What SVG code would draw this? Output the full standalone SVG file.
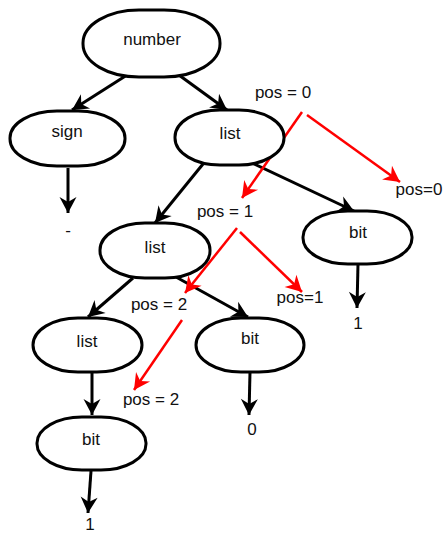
<svg xmlns="http://www.w3.org/2000/svg" width="445" height="535" viewBox="0 0 445 535">
<defs>
<style>
.node rect{fill:#fff;stroke:#000;stroke-width:3}
text{font-family:"Liberation Sans",Arial,sans-serif;font-size:17px;fill:#111;text-anchor:middle}
.blk{stroke:#000;stroke-width:3;fill:none;marker-end:url(#ab)}
.red{stroke:#f00;stroke-width:2.5;fill:none;marker-end:url(#ar)}
</style>
<marker id="ab" markerUnits="userSpaceOnUse" viewBox="-17 -10 19 20" refX="0" refY="0" markerWidth="19" markerHeight="20" orient="auto">
<path d="M0,0 L-16,-8.5 L-11,0 L-16,8.5 Z" fill="#000"/>
</marker>
<marker id="ar" markerUnits="userSpaceOnUse" viewBox="-17 -10 19 20" refX="0" refY="0" markerWidth="19" markerHeight="20" orient="auto">
<path d="M0,0 L-16,-8.5 L-11,0 L-16,8.5 Z" fill="#f00"/>
</marker>
</defs>
<g id="connectors">
<line class="blk" x1="127" y1="75" x2="72" y2="110"/>
<line class="blk" x1="172" y1="70" x2="227" y2="110"/>
<line class="blk" x1="68" y1="168" x2="68" y2="213"/>
<line class="blk" x1="203" y1="164" x2="155" y2="223"/>
<line class="blk" x1="250" y1="162" x2="354" y2="211"/>
<line class="blk" x1="358" y1="264" x2="357" y2="308"/>
<line class="blk" x1="133" y1="278" x2="88" y2="317"/>
<line class="blk" x1="176" y1="277" x2="248" y2="317"/>
<line class="blk" x1="92" y1="372" x2="92" y2="415"/>
<line class="blk" x1="250" y1="372" x2="249" y2="415"/>
<line class="blk" x1="91" y1="471" x2="88" y2="513"/>
<line class="red" x1="302" y1="112" x2="242" y2="198"/>
<line class="red" x1="307" y1="115" x2="400" y2="182"/>
<line class="red" x1="237" y1="228" x2="185" y2="293"/>
<line class="red" x1="240" y1="232" x2="302" y2="292"/>
<line class="red" x1="182" y1="320" x2="134" y2="390"/>
</g>
<g id="number" class="node"><rect x="83" y="10" width="137" height="67" rx="56" ry="33"/><text x="152" y="45">number</text></g>
<g id="sign" class="node"><rect x="10" y="111" width="115" height="55" rx="47" ry="27"/><text x="67" y="137">sign</text></g>
<g id="list1" class="node"><rect x="175" y="110" width="109" height="55" rx="45" ry="27"/><text x="230" y="139">list</text></g>
<g id="list2" class="node"><rect x="100" y="223" width="110" height="55" rx="45" ry="27"/><text x="155" y="253">list</text></g>
<g id="bit1" class="node"><rect x="303" y="211" width="109" height="53" rx="45" ry="26"/><text x="358" y="238">bit</text></g>
<g id="list3" class="node"><rect x="33" y="318" width="109" height="54" rx="45" ry="27"/><text x="87" y="347">list</text></g>
<g id="bit2" class="node"><rect x="196" y="318" width="108" height="54" rx="45" ry="27"/><text x="250" y="344">bit</text></g>
<g id="bit3" class="node"><rect x="37" y="417" width="109" height="53" rx="45" ry="26"/><text x="91" y="445">bit</text></g>
<g id="labels">
<text x="68" y="236">-</text>
<text x="358" y="329">1</text>
<text x="252" y="435">0</text>
<text x="90" y="530">1</text>
<text x="283" y="98">pos = 0</text>
<text x="419" y="195">pos=0</text>
<text x="225" y="217">pos = 1</text>
<text x="300" y="303">pos=1</text>
<text x="159" y="310">pos = 2</text>
<text x="151" y="405">pos = 2</text>
</g>
</svg>
